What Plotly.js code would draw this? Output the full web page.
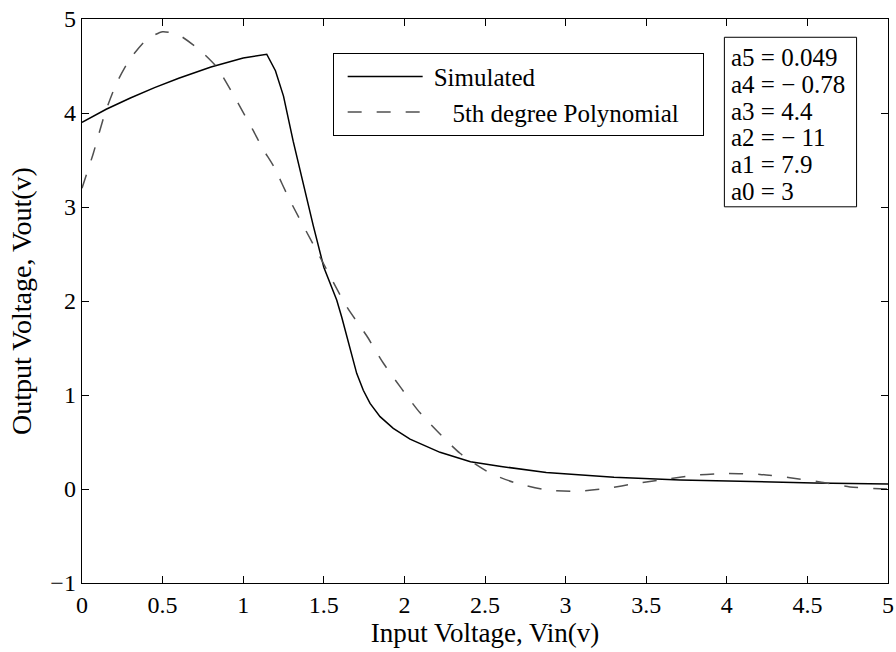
<!DOCTYPE html>
<html>
<head>
<meta charset="utf-8">
<script src="https://cdn.plot.ly/plotly-3.0.1.min.js"></script>
<style>html,body{margin:0;padding:0;background:#fff;}#chart{width:896px;height:652px;}</style>
</head>
<body>
<div id="chart"></div>
<script>
// Simulated transfer curve
var simX = [0, 0.15, 0.3, 0.45, 0.6, 0.8, 1.0, 1.146, 1.2, 1.25, 1.31, 1.37, 1.435, 1.5, 1.534, 1.58, 1.611, 1.642, 1.673, 1.704, 1.745, 1.787, 1.849, 1.931, 2.035, 2.138, 2.221, 2.41, 2.6, 2.88, 3.3, 3.71, 4.12, 4.54, 5.0];
var simY = [3.9, 4.04, 4.16, 4.27, 4.37, 4.49, 4.585, 4.625, 4.45, 4.18, 3.70, 3.26, 2.80, 2.36, 2.21, 2.01, 1.83, 1.62, 1.41, 1.23, 1.05, 0.91, 0.77, 0.645, 0.53, 0.45, 0.39, 0.29, 0.24, 0.175, 0.125, 0.096, 0.078, 0.064, 0.053];
// 5th degree polynomial fit
var polyX = [0, 0.07, 0.143, 0.215, 0.3, 0.4, 0.5, 0.6, 0.73, 0.835, 0.94, 1.06, 1.125, 1.19, 1.29, 1.476, 1.642, 1.766, 1.869, 2.097, 2.345, 2.531, 2.697, 2.883, 3.07, 3.255, 3.44, 3.627, 3.813, 4.0, 4.206, 4.392, 4.578, 4.764, 4.95, 5.0];
var polyY = [3.2, 3.57, 4.0, 4.32, 4.58, 4.78, 4.865, 4.83, 4.67, 4.49, 4.19, 3.82, 3.61, 3.43, 3.07, 2.47, 1.94, 1.63, 1.34, 0.81, 0.38, 0.17, 0.06, -0.01, -0.025, 0.007, 0.06, 0.106, 0.149, 0.166, 0.155, 0.12, 0.075, 0.022, 0.003, 0.0];
var seriesNames = ["Simulated", "\u00a0\u00a0\u00a05th degree Polynomial\u00a0\u00a0\u00a0"];
var coefLabels = ["a5 = 0.049", "a4 = \u2212 0.78", "a3 = 4.4", "a2 = \u2212 11", "a1 = 7.9", "a0 = 3"];
var xTickVals = [0, 0.5, 1, 1.5, 2, 2.5, 3, 3.5, 4, 4.5, 5];
var xTickText = ["0", "0.5", "1", "1.5", "2", "2.5", "3", "3.5", "4", "4.5", "5"];
var yTickVals = [-1, 0, 1, 2, 3, 4, 5];
var yTickText = ["\u22121", "0", "1", "2", "3", "4", "5"];

var FONT = "Liberation Serif";

var traces = [
  {x: simX, y: simY, name: seriesNames[0], type: "scatter", mode: "lines",
   line: {color: "#000000", width: 1.5}, legendgroup: "a"},
  {x: polyX, y: polyY, name: seriesNames[1], type: "scatter", mode: "lines",
   line: {color: "#505050", width: 1.5, dash: "14px,15px", shape: "spline", smoothing: 0.6}, legendgroup: "b"}
];

var annotations = coefLabels.map(function (t, i) {
  return {text: t, xref: "paper", yref: "paper", x: 0.803, y: 0.931 - i * 0.0473,
          xanchor: "left", yanchor: "middle", showarrow: false,
          font: {family: FONT, size: 25, color: "#000"}};
});

var layout = {
  width: 896, height: 652,
  margin: {l: 82, r: 8, t: 19, b: 69},
  paper_bgcolor: "#fff", plot_bgcolor: "#fff",
  font: {family: FONT, size: 24, color: "#000"},
  showlegend: true,
  legend: {x: 0.311, y: 0.94, xanchor: "left", yanchor: "top",
           bordercolor: "#000", borderwidth: 1, bgcolor: "#fff",
           font: {family: FONT, size: 25, color: "#000"},
           itemwidth: 90, tracegroupgap: 0},
  xaxis: {range: [0, 5], tickvals: xTickVals, ticktext: xTickText,
          ticks: "inside", ticklen: 7, tickwidth: 1, tickcolor: "#000",
          showline: true, linecolor: "#000", linewidth: 1.3, mirror: "allticks",
          showgrid: false, zeroline: false,
          tickfont: {family: FONT, size: 24, color: "#000"},
          title: {text: "Input Voltage, Vin(v)", font: {family: FONT, size: 27, color: "#000"}, standoff: 6}},
  yaxis: {range: [-1, 5], tickvals: yTickVals, ticktext: yTickText,
          ticks: "inside", ticklen: 7, tickwidth: 1, tickcolor: "#000",
          showline: true, linecolor: "#000", linewidth: 1.3, mirror: "allticks",
          showgrid: false, zeroline: false,
          tickfont: {family: FONT, size: 24, color: "#000"},
          title: {text: "Output Voltage, Vout(v)", font: {family: FONT, size: 28, color: "#000"}, standoff: 10}},
  shapes: [{type: "rect", xref: "paper", yref: "paper", x0: 0.797, x1: 0.961, y0: 0.667, y1: 0.9676,
            line: {color: "#000", width: 1}, fillcolor: "rgba(0,0,0,0)"}],
  annotations: annotations
};

Plotly.newPlot("chart", traces, layout, {staticPlot: true}).then(function (gd) {
  // lengthen legend line samples to match the reference's long legend strokes
  var paths = gd.querySelectorAll(".legend .legendlines path");
  paths.forEach(function (p) { p.setAttribute("d", "M14,0h75"); });
});
</script>
</body>
</html>
